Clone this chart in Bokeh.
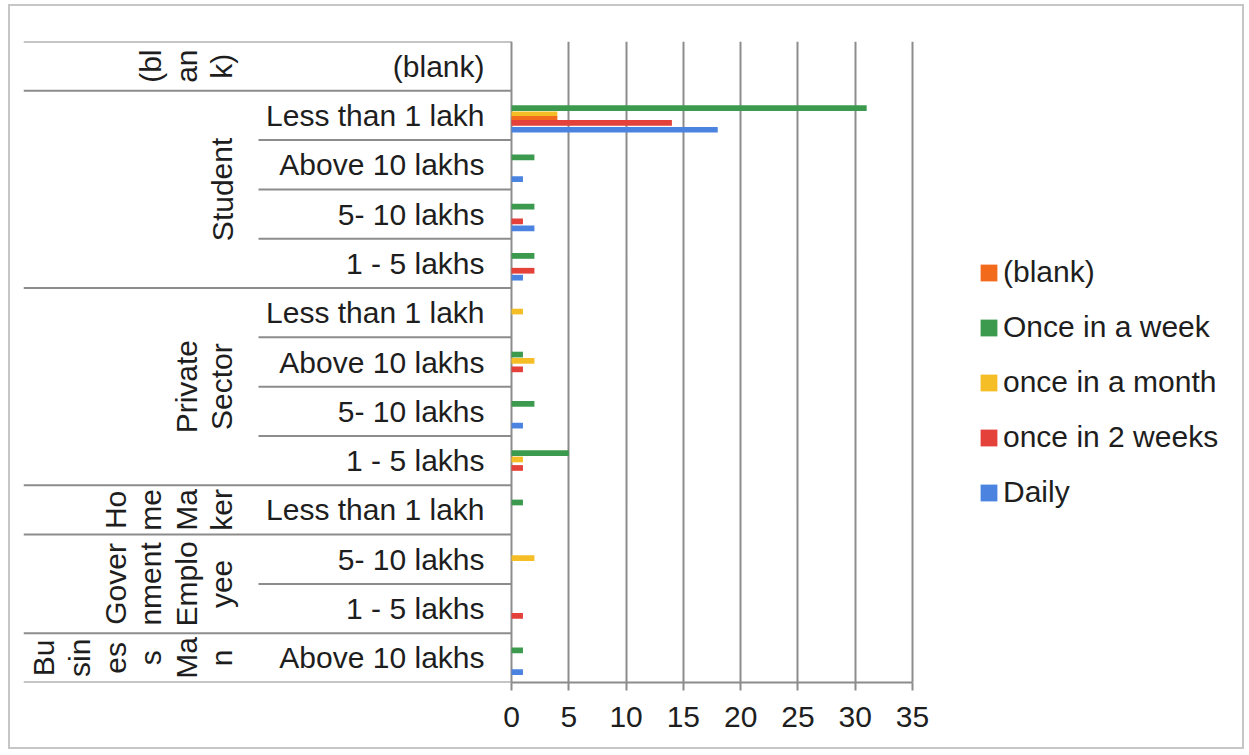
from bokeh.plotting import figure
from bokeh.models import (FactorRange, Range1d, LinearAxis, FixedTicker, Grid,
                          Legend, LegendItem, ColumnDataSource)
from bokeh.transform import dodge
from bokeh.core.properties import value
from bokeh.embed import file_html
from bokeh.resources import INLINE

# ---- data (rows listed top to bottom) ----
occupations = ["(blank)",
               "Student", "Student", "Student", "Student",
               "Private Sector", "Private Sector", "Private Sector", "Private Sector",
               "Home Maker",
               "Government Employee", "Government Employee",
               "Business Man"]
incomes = ["(blank)",
           "Less than 1 lakh", "Above 10 lakhs", "5- 10 lakhs", "1 - 5 lakhs",
           "Less than 1 lakh", "Above 10 lakhs", "5- 10 lakhs", "1 - 5 lakhs",
           "Less than 1 lakh",
           "5- 10 lakhs", "1 - 5 lakhs",
           "Above 10 lakhs"]

series_names = ["(blank)", "Once in a week", "once in a month", "once in 2 weeks", "Daily"]
blank_counts    = [0, 4, 0, 0, 0, 0, 0, 0, 0, 0, 0, 0, 0]
weekly_counts   = [0, 31, 2, 2, 2, 0, 1, 2, 5, 1, 0, 0, 1]
monthly_counts  = [0, 4, 0, 0, 0, 1, 2, 0, 1, 0, 2, 0, 0]
biweekly_counts = [0, 14, 0, 1, 2, 0, 1, 0, 1, 0, 0, 1, 0]
daily_counts    = [0, 18, 1, 2, 1, 0, 0, 1, 0, 0, 0, 0, 1]

# occupation labels as they wrap inside the narrow rotated label column
wrapped_group_labels = {
    "(blank)": "(bl\nan\nk)",
    "Student": "Student",
    "Private Sector": "Private\nSector",
    "Home Maker": "Ho\nme\nMa\nker",
    "Government Employee": "Gover\nnment\nEmplo\nyee",
    "Business Man": "Bu\nsin\nes\ns\nMa\nn",
}

x_ticks = [0, 5, 10, 15, 20, 25, 30, 35]

# ---- layout constants (page pixels) ----
OX, OY = 10, 6                 # canvas origin inside the bordered chart area
W, H = 1236, 745               # canvas size
FRAME_L, FRAME_R, FRAME_T, FRAME_B = 23, 1240, 41, 682
ZERO_PX, MAX_PX = 511, 912
SUB_LABEL_RIGHT = 484
GROUP_LABEL_X = 238
SUB_SEP_LEFT = 258
LEGEND_LEFT, LEGEND_BOTTOM = 978, 509

FONT = "Liberation Sans"
FONT_SIZE = "30px"
TEXT_COLOR = "#1e1e1e"
LINE_COLOR = "#8c8c8c"

colors = {
    "(blank)": "#F26B1D",
    "Once in a week": "#3C9A4E",
    "once in a month": "#F5BE26",
    "once in 2 weeks": "#E4413A",
    "Daily": "#4A84E0",
}

px_per_unit = (MAX_PX - ZERO_PX) / x_ticks[-1]
x_start = -(ZERO_PX - FRAME_L) / px_per_unit
x_end = (FRAME_R - ZERO_PX) / px_per_unit

factors = list(zip(occupations, incomes))
y_range = FactorRange(factors=factors[::-1], group_padding=0, subgroup_padding=0,
                      factor_padding=0, range_padding=0)

p = figure(width=W, height=H, x_range=Range1d(x_start, x_end), y_range=y_range,
           output_backend="svg", toolbar_location=None,
           x_axis_location=None, y_axis_location=None,
           min_border_left=FRAME_L - OX, min_border_right=(OX + W) - FRAME_R,
           min_border_top=FRAME_T - OY, min_border_bottom=(OY + H) - FRAME_B,
           styles={"margin-left": "8px", "margin-top": "4px",
                   "border": "2px solid #c6c6c6"})
p.outline_line_color = None
p.background_fill_color = "white"
p.border_fill_color = "white"
for r in list(p.center):
    if isinstance(r, Grid):
        r.visible = False
p.extra_x_ranges = {"px": Range1d(FRAME_L, FRAME_R)}

# value axis
xaxis = LinearAxis(ticker=FixedTicker(ticks=x_ticks), bounds=(x_ticks[0], x_ticks[-1]))
xaxis.axis_line_color = LINE_COLOR
xaxis.axis_line_width = 2
xaxis.major_tick_line_color = LINE_COLOR
xaxis.major_tick_line_width = 2
xaxis.major_tick_out = 8
xaxis.major_tick_in = 0
xaxis.minor_tick_line_color = None
xaxis.major_label_text_font = FONT
xaxis.major_label_text_font_size = FONT_SIZE
xaxis.major_label_text_color = TEXT_COLOR
xaxis.major_label_standoff = 16
p.add_layout(xaxis, "below")

grid = Grid(dimension=0, ticker=FixedTicker(ticks=x_ticks), bounds=(x_ticks[0], x_ticks[-1]))
grid.grid_line_color = LINE_COLOR
grid.grid_line_width = 2
p.add_layout(grid)

# bars, drawn top slot to bottom slot so each overlaps the one above it
src = ColumnDataSource(dict(cat=factors, blank=blank_counts, weekly=weekly_counts,
                            monthly=monthly_counts, biweekly=biweekly_counts,
                            daily=daily_counts))
bar_h = 0.116
offsets = {"Once in a week": 0.151, "once in a month": 0.023, "(blank)": -0.068,
           "once in 2 weeks": -0.149, "Daily": -0.29}
columns = {"(blank)": "blank", "Once in a week": "weekly", "once in a month": "monthly",
           "once in 2 weeks": "biweekly", "Daily": "daily"}
renderers = {}
for name in ["Once in a week", "once in a month", "(blank)", "once in 2 weeks", "Daily"]:
    renderers[name] = p.hbar(y=dodge("cat", offsets[name], range=p.y_range),
                             left=0, right=columns[name], height=bar_h, source=src,
                             fill_color=colors[name], line_color=None)

# category separators
n = len(factors)
group_y, sub_y = [], []
for i in range(n):
    y = n - i                       # synthetic y of the row's top edge
    if i == 0 or occupations[i] != occupations[i - 1]:
        group_y.append(y)
    else:
        sub_y.append(y)
group_y.append(0)
p.segment(x0=FRAME_L, x1=ZERO_PX, y0=group_y, y1=group_y, x_range_name="px",
          line_color=LINE_COLOR, line_width=2)
p.segment(x0=SUB_SEP_LEFT, x1=ZERO_PX, y0=sub_y, y1=sub_y, x_range_name="px",
          line_color=LINE_COLOR, line_width=2)

# income labels
p.text(x=SUB_LABEL_RIGHT, y=factors, text=incomes, x_range_name="px",
       text_align="right", text_baseline="middle", text_font=value(FONT),
       text_font_size=FONT_SIZE, text_color=TEXT_COLOR)

# occupation labels, rotated
groups = list(dict.fromkeys(occupations))
p.text(x=GROUP_LABEL_X, y=groups, text=[wrapped_group_labels[g] for g in groups],
       x_range_name="px", angle=1.5708, text_align="center", text_baseline="bottom",
       text_line_height=1.08, text_font=value(FONT), text_font_size=FONT_SIZE,
       text_color=TEXT_COLOR)

# legend
legend = Legend(items=[LegendItem(label=name, renderers=[renderers[name]])
                       for name in series_names],
                location=(LEGEND_LEFT - FRAME_L, FRAME_B - LEGEND_BOTTOM))
legend.glyph_width = 21
legend.glyph_height = 21
legend.label_standoff = 4
legend.spacing = 21
legend.padding = 0
legend.margin = 0
legend.border_line_color = None
legend.background_fill_alpha = 0
legend.label_text_font = FONT
legend.label_text_font_size = FONT_SIZE
legend.label_text_color = TEXT_COLOR
p.add_layout(legend)

open("out.html", "w").write(file_html(p, INLINE))
